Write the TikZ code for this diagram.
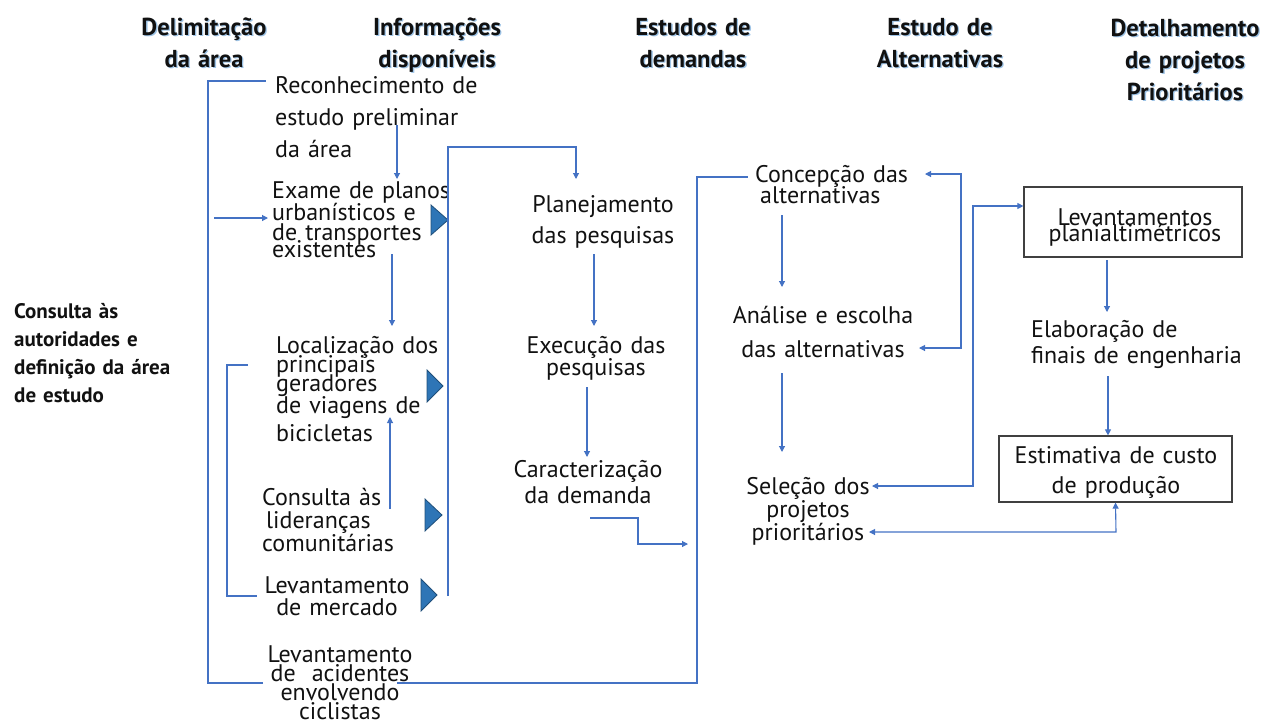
\documentclass[tikz,border=0pt]{standalone}
\usepackage{fontspec}
\setmainfont{PT Sans}
\usetikzlibrary{arrows.meta}
\definecolor{ln}{HTML}{4472C4}
\definecolor{trif}{HTML}{2E75B6}
\definecolor{trib}{HTML}{1F4E79}
\definecolor{shd}{HTML}{9DC3E6}
\definecolor{txt}{HTML}{111111}
\newcommand{\fs}[2]{\fontsize{#1}{#2}\selectfont\lineskiplimit=-100pt\lineskip=0pt}
\newcommand{\hdr}[4]{\node[hds] (#1s) at (#2+1.3,#3+1.3) {#4};\node[hd] (#1) at (#2,#3) {#4};}
\tikzset{
  hd/.style={font=\bfseries\fs{24.5}{32}, text width=240pt, align=center, anchor=base, inner sep=0pt, text=txt},
  hds/.style={hd, text=shd},
  bl/.style={inner sep=0pt, anchor=base west, align=left, text width=280pt, text=txt},
  bc/.style={inner sep=0pt, anchor=base, align=center, text width=280pt, text=txt},
  conn/.style={draw=ln, line width=1.1pt},
  arr/.style={conn, -{Triangle[length=6pt,width=6pt]}},
  biarr/.style={conn, {Triangle[length=6pt,width=6pt]}-{Triangle[length=6pt,width=6pt]}},
  tribox/.style={fill=trif, draw=trib, line width=0.8pt},
  frame/.style={draw=black!75, line width=1.2pt, inner sep=0pt}
}
\begin{document}
\begin{tikzpicture}[x=1pt,y=-1pt]
\useasboundingbox (0,0) rectangle (1280,724);
% headers
\hdr{h1}{204}{35}{Delimitação\\da área}
\hdr{h2}{437}{35}{Informações\\disponíveis}
\hdr{h3}{693}{35}{Estudos de\\demandas}
\hdr{h4}{940}{35}{Estudo de\\Alternativas}
\hdr{h5}{1185}{36}{Detalhamento\\de projetos\\Prioritários}
% left text
\node[bl, font=\bfseries\fs{21}{28.3}] (cons) at (14,318) {Consulta às\\autoridades e\\definição da área\\de estudo};
% column 2
\node[bl, font=\fs{24}{32}] (recon) at (275,93) {Reconhecimento de\\estudo preliminar\\da área};
\node[bl, font=\fs{24}{20}] (exame) at (272,198) {Exame de planos\\[2pt]urbanísticos e\\de transportes\\[-3pt]existentes};
\node[bl, font=\fs{24}{19}] (local) at (276,353) {Localização dos\\principais\\geradores\\[3pt]de viagens de\\[9pt]bicicletas};
\node[bl, font=\fs{24}{23}] (consl) at (262,505) {Consulta às\\\hspace*{4pt}lideranças\\comunitárias};
\node[bc, font=\fs{24}{22}] (levm) at (337,593) {Levantamento\\de mercado};
\node[bc, font=\fs{24}{19.3}] (leva) at (340,662) {Levantamento\\de\ \ acidentes\\envolvendo\\ciclistas};
% column 3
\node[bc, font=\fs{24}{31}] (plan) at (603,212) {Planejamento\\das pesquisas};
\node[bc, font=\fs{24}{22}] (exec) at (596,353) {Execução das\\pesquisas};
\node[bc, font=\fs{24}{26}] (carac) at (588,477) {Caracterização\\da demanda};
% column 4
\node[bl, font=\fs{24}{21}] (conc) at (755,182) {Concepção das\\\hspace*{5pt}alternativas};
\node[bc, font=\fs{24}{34}] (anal) at (823,323) {Análise e escolha\\das alternativas};
\node[bc, font=\fs{24}{23}] (sel) at (808,494) {Seleção dos\\projetos\\prioritários};
% column 5
\node[frame, minimum width=218pt, minimum height=70pt] (levbox) at (1133,222) {};
\node[bc, font=\fs{24}{16}] (levt) at (1135,225) {Levantamentos\\planialtimétricos};
\node[bl, font=\fs{24}{26}] (elab) at (1031,337) {Elaboração de\\finais de engenharia};
\node[frame, minimum width=233pt, minimum height=66pt] (estbox) at (1115.5,469) {};
\node[bc, font=\fs{24}{30}] (estt) at (1116,463) {Estimativa de custo\\de produção};
% triangles
\path[tribox] (431,205) -- (448,220) -- (431,235) -- cycle;
\path[tribox] (427,370) -- (443,386) -- (427,402) -- cycle;
\path[tribox] (425,499) -- (442,515) -- (425,531) -- cycle;
\path[tribox] (421,579) -- (437,595) -- (421,611) -- cycle;
% coordinates
\coordinate (bTL) at (266,81);
\coordinate (bBL) at (263,683);
\coordinate (bBR) at (397,683);
\coordinate (c4top) at (748,177);
% connectors column 1-2
\draw[conn] (bBL) -- (208,683) -- (208,81) -- (bTL);
\draw[arr] (214,218) -- (268,218);
\draw[conn] (248,365) -- (227,365) -- (227,596) -- (257,596);
\draw[arr] (397,125) -- (397,179);
\draw[arr] (392,254) -- (392,326);
\draw[arr] (390,509) -- (390,417);
\draw[arr] (448,596) -- (448,147) -- (576,147) -- (576,179);
% column 3
\draw[arr] (594,254) -- (594,326);
\draw[arr] (587,387) -- (587,457);
\draw[arr] (590,518) -- (638,518) -- (638,544) -- (688,544);
\draw[conn] (bBR) -- (697,683) -- (697,177) -- (c4top);
% column 4
\draw[arr] (782,215) -- (782,287);
\draw[arr] (782,373) -- (782,452);
\draw[biarr] (925,174) -- (961,174) -- (961,348) -- (919,348);
\draw[biarr] (872,486) -- (973,486) -- (973,206) -- (levbox.west |- 0,206);
% column 5
\draw[arr] (1107,260) -- (1107,312);
\draw[arr] (1108,376) -- (estbox.north -| 1108,0);
\draw[biarr] (869,532) -- (1116,532) -- (estbox.south);
\end{tikzpicture}
\end{document}
